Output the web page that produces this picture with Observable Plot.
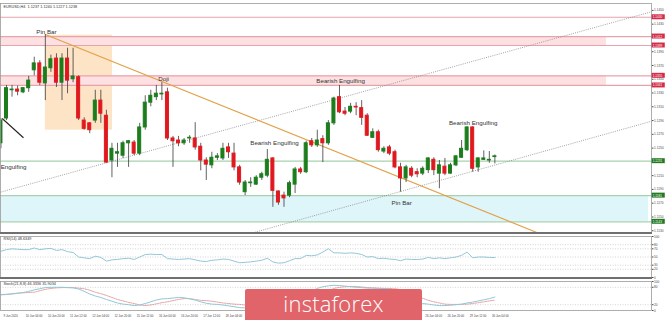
<!DOCTYPE html>
<html>
<head>
<meta charset="utf-8">
<script src="https://cdn.jsdelivr.net/npm/d3@7"></script>
<script src="https://cdn.jsdelivr.net/npm/@observablehq/plot@0.6"></script>
<style>
  html, body { margin: 0; padding: 0; background: #fff; }
  #chart { position: relative; width: 665px; height: 320px; overflow: hidden; background: #fff; }
  #chart .pane { position: absolute; left: 0; }
  #chart svg { display: block; overflow: visible; }
  .sep { position: absolute; left: 0; width: 652px; height: 2px; background: #707070; }
  #logo { position: absolute; left: 245px; top: 289px; width: 177px; height: 31px; background: #e1646a; border-radius: 2px 2px 0 0; overflow: hidden; }
  #logo .word { position: absolute; left: 0; right: 0; top: 3px; text-align: center; color: #fff; font: 300 22px/1 "Open Sans", sans-serif; letter-spacing: 0.2px; }
</style>
</head>
<body>
<div id="chart">
  <div class="pane" id="main" style="top:0"></div>
  <div class="pane" id="rsi" style="top:233px"></div>
  <div class="pane" id="stoch" style="top:278px"></div>
  <div class="sep" style="top:232px"></div>
  <div class="sep" style="top:277px"></div>
  <div id="logo"><div class="word">instaforex</div></div>
</div>
<script>
// EURUSD H4 candles, one entry per bar (oldest first)
const open = [
  1.1257,1.1293,1.1334,1.1335,1.1331,1.1337,1.1363,1.1373,1.1344,1.1366,
  1.1380,1.1345,1.1380,1.1350,1.1353,1.1290,1.1286,1.1290,1.1319,1.1297,
  1.1232,1.1242,1.1239,1.1257,1.1258,1.1242,1.1280,1.1316,1.1324,1.1328,
  1.1331,1.1264,1.1261,1.1257,1.1264,1.1264,1.1252,1.1232,1.1225,1.1236,
  1.1235,1.1251,1.1242,1.1222,1.1186,1.1199,1.1197,1.1207,1.1210,1.1235,
  1.1187,1.1181,1.1181,1.1197,1.1219,1.1215,1.1260,1.1254,1.1263,1.1257,
  1.1286,1.1324,1.1303,1.1303,1.1310,1.1308,1.1297,1.1265,1.1273,1.1245,
  1.1251,1.1244,1.1222,1.1206,1.1220,1.1215,1.1213,1.1218,1.1233,1.1213,
  1.1223,1.1213,1.1225,1.1236,1.1247,1.1280,1.1222,1.1233,1.1232,1.1237
];
const high = [
  1.1293,1.1341,1.1341,1.1340,1.1338,1.1354,1.1382,1.1377,1.1415,1.1385,
  1.1387,1.1387,1.1395,1.1395,1.1355,1.1294,1.1287,1.1334,1.1334,1.1305,
  1.1257,1.1257,1.1260,1.1261,1.1261,1.1286,1.1326,1.1334,1.1341,1.1345,
  1.1337,1.1267,1.1267,1.1264,1.1268,1.1287,1.1257,1.1236,1.1244,1.1242,
  1.1257,1.1257,1.1257,1.1225,1.1203,1.1207,1.1210,1.1215,1.1248,1.1236,
  1.1188,1.1186,1.1202,1.1222,1.1222,1.1260,1.1264,1.1276,1.1268,1.1290,
  1.1324,1.1341,1.1309,1.1315,1.1316,1.1319,1.1300,1.1278,1.1276,1.1252,
  1.1254,1.1247,1.1228,1.1225,1.1223,1.1220,1.1223,1.1236,1.1236,1.1232,
  1.1235,1.1228,1.1239,1.1261,1.1281,1.1281,1.1236,1.1246,1.1245,1.1240
];
const low = [
  1.1249,1.1290,1.1324,1.1326,1.1329,1.1331,1.1355,1.1341,1.1319,1.1360,
  1.1338,1.1319,1.1329,1.1345,1.1290,1.1276,1.1271,1.1286,1.1286,1.1228,
  1.1207,1.1222,1.1235,1.1222,1.1239,1.1239,1.1276,1.1310,1.1319,1.1319,
  1.1261,1.1222,1.1252,1.1254,1.1257,1.1247,1.1217,1.1203,1.1220,1.1232,
  1.1232,1.1235,1.1217,1.1196,1.1181,1.1193,1.1196,1.1203,1.1207,1.1164,
  1.1167,1.1164,1.1178,1.1184,1.1212,1.1213,1.1251,1.1251,1.1229,1.1254,
  1.1283,1.1300,1.1297,1.1300,1.1297,1.1283,1.1267,1.1264,1.1244,1.1242,
  1.1239,1.1220,1.1186,1.1200,1.1207,1.1207,1.1210,1.1213,1.1210,1.1191,
  1.1210,1.1212,1.1223,1.1235,1.1245,1.1215,1.1215,1.1232,1.1228,1.1227
];
const close = [
  1.1290,1.1337,1.1335,1.1332,1.1337,1.1348,1.1373,1.1345,1.1367,1.1379,
  1.1345,1.1380,1.1348,1.1354,1.1293,1.1278,1.1276,1.1319,1.1300,1.1229,
  1.1249,1.1244,1.1257,1.1260,1.1242,1.1280,1.1316,1.1326,1.1329,1.1329,
  1.1264,1.1260,1.1257,1.1261,1.1265,1.1251,1.1232,1.1226,1.1236,1.1238,
  1.1249,1.1244,1.1222,1.1200,1.1200,1.1200,1.1207,1.1212,1.1233,1.1188,
  1.1171,1.1177,1.1199,1.1219,1.1215,1.1257,1.1254,1.1261,1.1257,1.1286,
  1.1322,1.1302,1.1300,1.1310,1.1309,1.1294,1.1268,1.1273,1.1247,1.1249,
  1.1242,1.1222,1.1206,1.1222,1.1210,1.1212,1.1220,1.1235,1.1218,1.1225,
  1.1213,1.1225,1.1238,1.1249,1.1280,1.1220,1.1235,1.1235,1.1233,1.1238
];

// RSI(14) per bar
const rsi = [
  64,68,70,69,68,68,72,68,70,71, 66,68,63,61,50,48,46,52,49,40,
  43,44,46,47,44,50,56,57,56,56, 46,45,44,45,46,43,40,39,42,43,
  45,44,40,36,37,38,40,42,47,38, 35,36,41,46,46,54,53,55,62,70,
  60,60,59,60,59,56,50,51,46,47, 45,44,41,45,44,44,45,49,46,48,
  46,48,50,54,62,48,50,50,49,48.6349
];
// Stochastic(21,8,8): main and signal lines per bar
const stochMain = [
  54,55,57,59,62,66,71,75,79,80, 80,80,79,78,74,66,57,50,45,38,
  32,26,22,20,17,19,24,30,36,40, 41,43,45,44,40,36,30,25,22,21,
  19,16,13,10,9,10,12,15,20,18, 14,14,20,30,42,56,67,76,82,85,
  87,86,84,82,80,79,77,77,76,76, 75,68,55,44,35,28,24,22,19,17,
  17,18,20,22,26,29,33,37,41,46.3336
];
const stochSignal = [
  55,56,58,60,61,62,63,68,73,76, 78,79,79,79,77,75,70,63,58,52,
  45,38,33,28,24,19,17,19,23,27, 30,34,38,41,41,38,35,34,32,29,
  26,24,22,21,19,17,15,14,14,15, 15,15,16,19,24,31,40,50,60,69,
  76,80,82,83,83,81,79,78,77,76, 76,75,72,66,58,49,42,35,30,26,
  22,21,21,21,22,24,27,30,33,35.9034
];

// Time axis: the bar each label marks, and its text
const timeLabelBars = [1,5,9,13,17,21,25,29,33,37,41,45,49,53,57,61,65,69,73,77,81,85,89];
const timeLabels = ["9 Jun 2020","10 Jun 04:00","10 Jun 20:00","11 Jun 12:00","12 Jun 04:00","12 Jun 20:00",
  "15 Jun 12:00","16 Jun 04:00","16 Jun 20:00","17 Jun 12:00","18 Jun 04:00","18 Jun 20:00","19 Jun 12:00",
  "22 Jun 04:00","22 Jun 20:00","23 Jun 12:00","24 Jun 04:00","24 Jun 20:00","25 Jun 12:00","26 Jun 04:00",
  "26 Jun 20:00","29 Jun 12:00","30 Jun 04:00"];
// Bars covered by the watermark (their time labels sit underneath it)
const watermarkBars = [43.5, 75.5];

// Price axis ticks
const priceTicks = [1.1130,1.1150,1.1170,1.1190,1.1210,1.1230,1.1250,1.1270,1.1290,1.1310,1.1330,1.1350,1.1370,1.1390,1.1410,1.1430,1.1450];

// Resistance (red) and support (green) levels
const resistanceLevels = [1.1440, 1.1412, 1.1399, 1.1355, 1.1341];
const supportLevels = [1.1231, 1.1181, 1.1143];
const resistanceZones = [[1.1399, 1.1412], [1.1341, 1.1355]];
const supportZones = [[1.1143, 1.1181]];
// Pin bar range box: bars and price span
const pinBarBox = [{bar1: 8, bar2: 20.1, p1: 1.1414, p2: 1.1276}];

// Drawn lines, endpoints as (bar, price)
const channelLines = [
  {bar1: -0.08, p1: 1.1186, bar2: 117.22, p2: 1.1448},
  {bar1: 44.96, p1: 1.1126, bar2: 117.22, p2: 1.1289}
];
const trendLine = [{bar1: 8, p1: 1.1415, bar2: 97.0, p2: 1.1126}];
const markerLine = [{bar1: 0.23, p1: 1.1293, bar2: 4.06, p2: 1.1265}];

// Candlestick pattern notes
const notes = [
  {text: "Pin Bar", bar: 8.2, price: 1.1419},
  {text: "Doji", bar: 29.3, price: 1.1350},
  {text: "Bearish Engulfing", bar: 61.2, price: 1.1348},
  {text: "Bearish Engulfing", bar: 49.3, price: 1.1258},
  {text: "Bearish Engulfing", bar: 85.1, price: 1.1286},
  {text: "Pin Bar", bar: 72.2, price: 1.1170}
];
const edgeNote = [{text: "Engulfing", bar: 4.6, price: 1.1222}];

const symbolLine = "EURUSD,H4  1.1237 1.1240 1.1227 1.1238";
const rsiTitle = "RSI(14) 48.6349";
const stochTitle = "Stoch(21,8,8) 46.3336 35.9034";

// ---- drawing ----
const bars = open.map((o, k) => ({k, o, h: high[k], l: low[k], c: close[k]}));
const xDomain = [-0.08, 117.22];
const xEdge = xDomain[1];
const fmt4 = d3.format(".4f");
const GREEN = "#1b7d1b", RED = "#e0191f";
const candleColor = d => d.c > d.o ? GREEN : d.c < d.o ? RED : "#444";
const baseStyle = {background: "transparent", fontFamily: "'Liberation Sans', Arial, sans-serif", fontSize: "3.2px", color: "#4a4a4a", overflow: "visible"};

// axis ticks that a level's price tag would cover are left out
const allLevels = resistanceLevels.concat(supportLevels);
const visibleTicks = priceTicks.filter(t => allLevels.every(v => Math.abs(v - t) > 0.00045));

const main = Plot.plot({
  width: 665, height: 234, marginTop: 3, marginBottom: 1, marginLeft: 0, marginRight: 14,
  style: baseStyle,
  x: {domain: xDomain, axis: null},
  y: {domain: [1.1126, 1.1460], axis: "right", ticks: visibleTicks, tickFormat: fmt4, tickSize: 1.5, tickPadding: 1, label: null},
  marks: [
    Plot.rect(pinBarBox, {x1: "bar1", x2: "bar2", y1: "p1", y2: "p2", fill: "#fde4c6"}),
    Plot.rect(resistanceZones, {x1: xDomain[0], x2: 109.1, y1: d => d[0], y2: d => d[1], fill: "#fde0e1"}),
    Plot.rect(supportZones, {x1: xDomain[0], x2: 116.7, y1: d => d[0], y2: d => d[1], fill: "#def5fa"}),
    Plot.ruleY(resistanceLevels, {stroke: "#e7a3aa", strokeWidth: 1.2}),
    Plot.ruleY(supportLevels, {stroke: "#a7d2ad", strokeWidth: 1.2}),
    Plot.link(channelLines, {x1: "bar1", y1: "p1", x2: "bar2", y2: "p2", stroke: "#8a8a8a", strokeWidth: 0.8, strokeDasharray: "1,1.2"}),
    Plot.link(trendLine, {x1: "bar1", y1: "p1", x2: "bar2", y2: "p2", stroke: "#e2a148", strokeWidth: 1.2}),
    Plot.link(markerLine, {x1: "bar1", y1: "p1", x2: "bar2", y2: "p2", stroke: "#222", strokeWidth: 1.1}),
    Plot.ruleX(bars, {x: "k", y1: "l", y2: "h", stroke: "#3a3a3a", strokeWidth: 0.8}),
    Plot.rect(bars, {x1: d => d.k - 0.27, x2: d => d.k + 0.27, y1: "o", y2: "c", fill: candleColor, stroke: candleColor, strokeWidth: 1}),
    Plot.text(notes, {x: "bar", y: "price", text: "text", fontSize: 6.2, fill: "#333", textAnchor: "middle"}),
    Plot.text(edgeNote, {x: "bar", y: "price", text: "text", fontSize: 6.2, fill: "#333", textAnchor: "end"}),
    Plot.rect(resistanceLevels, {x1: xEdge, x2: 119.7, y1: d => d - 0.00036, y2: d => d + 0.00036, fill: "#d52a48"}),
    Plot.rect(supportLevels, {x1: xEdge, x2: 119.7, y1: d => d - 0.00036, y2: d => d + 0.00036, fill: "#237a23"}),
    Plot.text(allLevels, {x: xEdge, y: d => d, text: fmt4, dx: 1.2, textAnchor: "start", fill: "#fff", fontSize: 3.1}),
    Plot.text([symbolLine], {frameAnchor: "top-left", dx: 3, dy: 1.5, fill: "#333", fontSize: 3.8}),
    Plot.frame({stroke: "#9a9a9a", strokeWidth: 0.8})
  ]
});
document.getElementById("main").appendChild(main);

const rsiPlot = Plot.plot({
  width: 665, height: 45, marginTop: 3, marginBottom: 1, marginLeft: 0, marginRight: 14,
  style: baseStyle,
  x: {domain: xDomain, axis: null},
  y: {domain: [0, 100], axis: "right", ticks: [100, 80, 70, 50, 30, 20, 0], tickSize: 1.5, tickPadding: 1, label: null},
  marks: [
    Plot.ruleY([80, 70, 50, 30, 20], {stroke: "#b8b8b8", strokeWidth: 0.6, strokeDasharray: "1,1.5"}),
    Plot.lineY(rsi, {x: (d, k) => k, y: d => d, stroke: "#93c8d8", strokeWidth: 1}),
    Plot.text([rsiTitle], {frameAnchor: "top-left", dx: 3, dy: 1, fill: "#333", fontSize: 3.8}),
    Plot.frame({stroke: "#9a9a9a", strokeWidth: 0.8})
  ]
});
document.getElementById("rsi").appendChild(rsiPlot);

// time labels left visible around the watermark
const shownLabels = timeLabels
  .map((text, m) => ({text, bar: timeLabelBars[m]}))
  .filter(d => d.bar < watermarkBars[0] || d.bar > watermarkBars[1]);

const stochPlot = Plot.plot({
  width: 665, height: 42, marginTop: 3, marginBottom: 10, marginLeft: 0, marginRight: 14,
  style: baseStyle,
  x: {domain: xDomain, axis: null},
  y: {domain: [0, 100], axis: "right", ticks: [100, 80, 20, 0], tickSize: 1.5, tickPadding: 1, label: null},
  marks: [
    Plot.ruleY([80, 20], {stroke: "#b8b8b8", strokeWidth: 0.6, strokeDasharray: "1,1.5"}),
    Plot.lineY(stochSignal, {x: (d, k) => k, y: d => d, stroke: "#e08a8a", strokeWidth: 0.8, strokeDasharray: "1.5,1"}),
    Plot.lineY(stochMain, {x: (d, k) => k, y: d => d, stroke: "#93c8d8", strokeWidth: 1}),
    Plot.text([stochTitle], {frameAnchor: "top-left", dx: 3, dy: 1, fill: "#333", fontSize: 3.8}),
    Plot.text(shownLabels, {x: "bar", text: "text", frameAnchor: "bottom", dy: 6, dx: -3, textAnchor: "start", fill: "#444", fontSize: 2.9}),
    Plot.frame({stroke: "#9a9a9a", strokeWidth: 0.8})
  ]
});
document.getElementById("stoch").appendChild(stochPlot);
</script>
</body>
</html>
